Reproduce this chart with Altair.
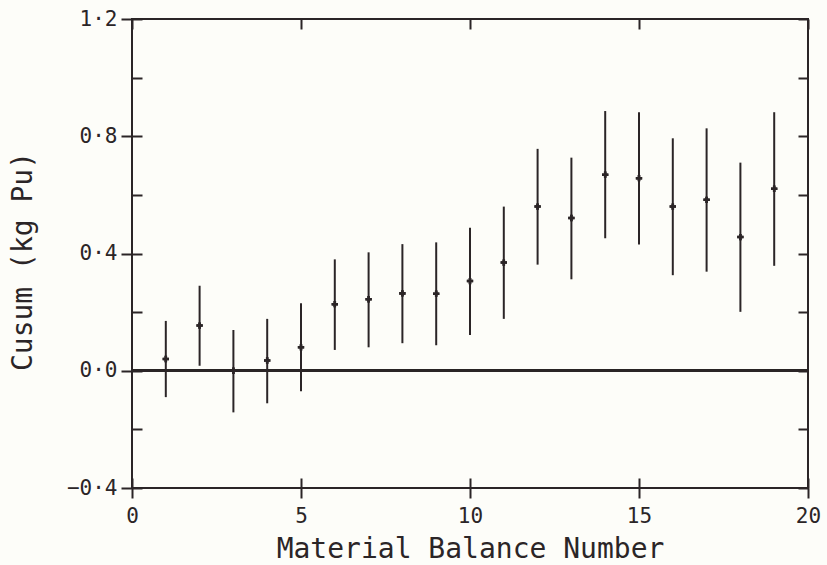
import altair as alt
import pandas as pd

balance_no = list(range(1, 20))
cusum = [0.04, 0.154, 0.0, 0.035, 0.08, 0.227, 0.244, 0.264, 0.263, 0.306,
         0.369, 0.56, 0.521, 0.669, 0.657, 0.56, 0.583, 0.456, 0.621]
lower = [-0.09, 0.017, -0.142, -0.111, -0.07, 0.071, 0.08, 0.094, 0.087, 0.122,
         0.177, 0.362, 0.312, 0.452, 0.431, 0.326, 0.338, 0.201, 0.358]
upper = [0.17, 0.29, 0.139, 0.177, 0.23, 0.38, 0.404, 0.432, 0.438, 0.488,
         0.56, 0.757, 0.727, 0.886, 0.882, 0.793, 0.827, 0.71, 0.882]

x_major = [0, 5, 10, 15, 20]
y_major = [-0.4, 0.0, 0.4, 0.8, 1.2]
y_minor = [-0.4, -0.2, 0.0, 0.2, 0.4, 0.6, 0.8, 1.0, 1.2]

df = pd.DataFrame({"n": balance_no, "c": cusum, "lo": lower, "hi": upper})

W, H = 676, 469
INK = "#2b2527"
FONT = "DejaVu Sans Mono"

xs = alt.Scale(domain=[0, 20], nice=False, zero=False)
ys = alt.Scale(domain=[-0.4, 1.2], nice=False, zero=False)

lbl = "replace(format(datum.value, '.1f'), '.', '·')"

zero_line = alt.Chart(df).mark_rule(color=INK, strokeWidth=2).encode(
    y=alt.datum(0, scale=ys, type="quantitative",
                axis=alt.Axis(orient="left", values=y_major, tickSize=11,
                              labelExpr=lbl, labelPadding=4, labelFontSize=21,
                              labelFont=FONT, labelColor=INK, tickColor=INK,
                              tickWidth=2, domain=False, grid=False,
                              title="Cusum (kg Pu)", titleFont=FONT,
                              titleFontSize=28, titleFontWeight="normal",
                              titleColor=INK, titleX=-109, titleY=242,
                              titleBaseline="middle", titleAngle=270))
)

bars = alt.Chart(df).mark_rule(color=INK, strokeWidth=2).encode(
    x=alt.X("n:Q", scale=xs,
            axis=alt.Axis(orient="bottom", values=x_major, tickSize=10,
                          labelFontSize=21, labelFont=FONT, labelColor=INK,
                          labelBaseline="middle", labelPadding=18,
                          labelFlush=False, tickColor=INK, tickWidth=2,
                          domain=False, grid=False,
                          title="Material Balance Number", titleFont=FONT,
                          titleFontSize=28, titleFontWeight="normal",
                          titleColor=INK, titleX=W / 2, titleY=61,
                          titleBaseline="middle")),
    y=alt.Y("lo:Q", scale=ys,
            axis=alt.Axis(orient="right", offset=-W, values=y_minor,
                          tickSize=10, labels=False, domain=False, grid=False,
                          tickColor=INK, tickWidth=2, title=None)),
    y2="hi:Q",
)

pts = alt.Chart(df).mark_point(shape="cross", filled=True, size=40,
                               color=INK, opacity=1).encode(
    x=alt.X("n:Q", scale=xs,
            axis=alt.Axis(orient="top", offset=-H, values=x_major,
                          tickSize=10, labels=False, domain=False, grid=False,
                          tickColor=INK, tickWidth=2, title=None)),
    y=alt.Y("c:Q", scale=ys,
            axis=alt.Axis(orient="left", offset=-W, values=y_minor,
                          tickSize=10, labels=False, domain=False, grid=False,
                          tickColor=INK, tickWidth=2, title=None)),
)

pts_top = alt.Chart(df).mark_point(shape="cross", filled=True, size=40,
                                   color=INK, opacity=1).encode(
    x=alt.X("n:Q", scale=xs,
            axis=alt.Axis(orient="bottom", offset=-H, values=x_major,
                          tickSize=10, labels=False, domain=False, grid=False,
                          tickColor=INK, tickWidth=2, title=None)),
    y=alt.Y("c:Q", scale=ys, axis=None),
)

chart = alt.layer(zero_line, bars, pts, pts_top).resolve_axis(
    x="independent", y="independent"
).resolve_scale(x="shared", y="shared").properties(
    width=W, height=H,
    autosize=alt.AutoSizeParams(type="none"),
    padding={"left": 132, "top": 19, "right": 19, "bottom": 77},
    background="#fdfdf9",
).configure_view(stroke=INK, strokeWidth=2)

chart.save("out.html", embed_options={"renderer": "svg", "actions": False})
